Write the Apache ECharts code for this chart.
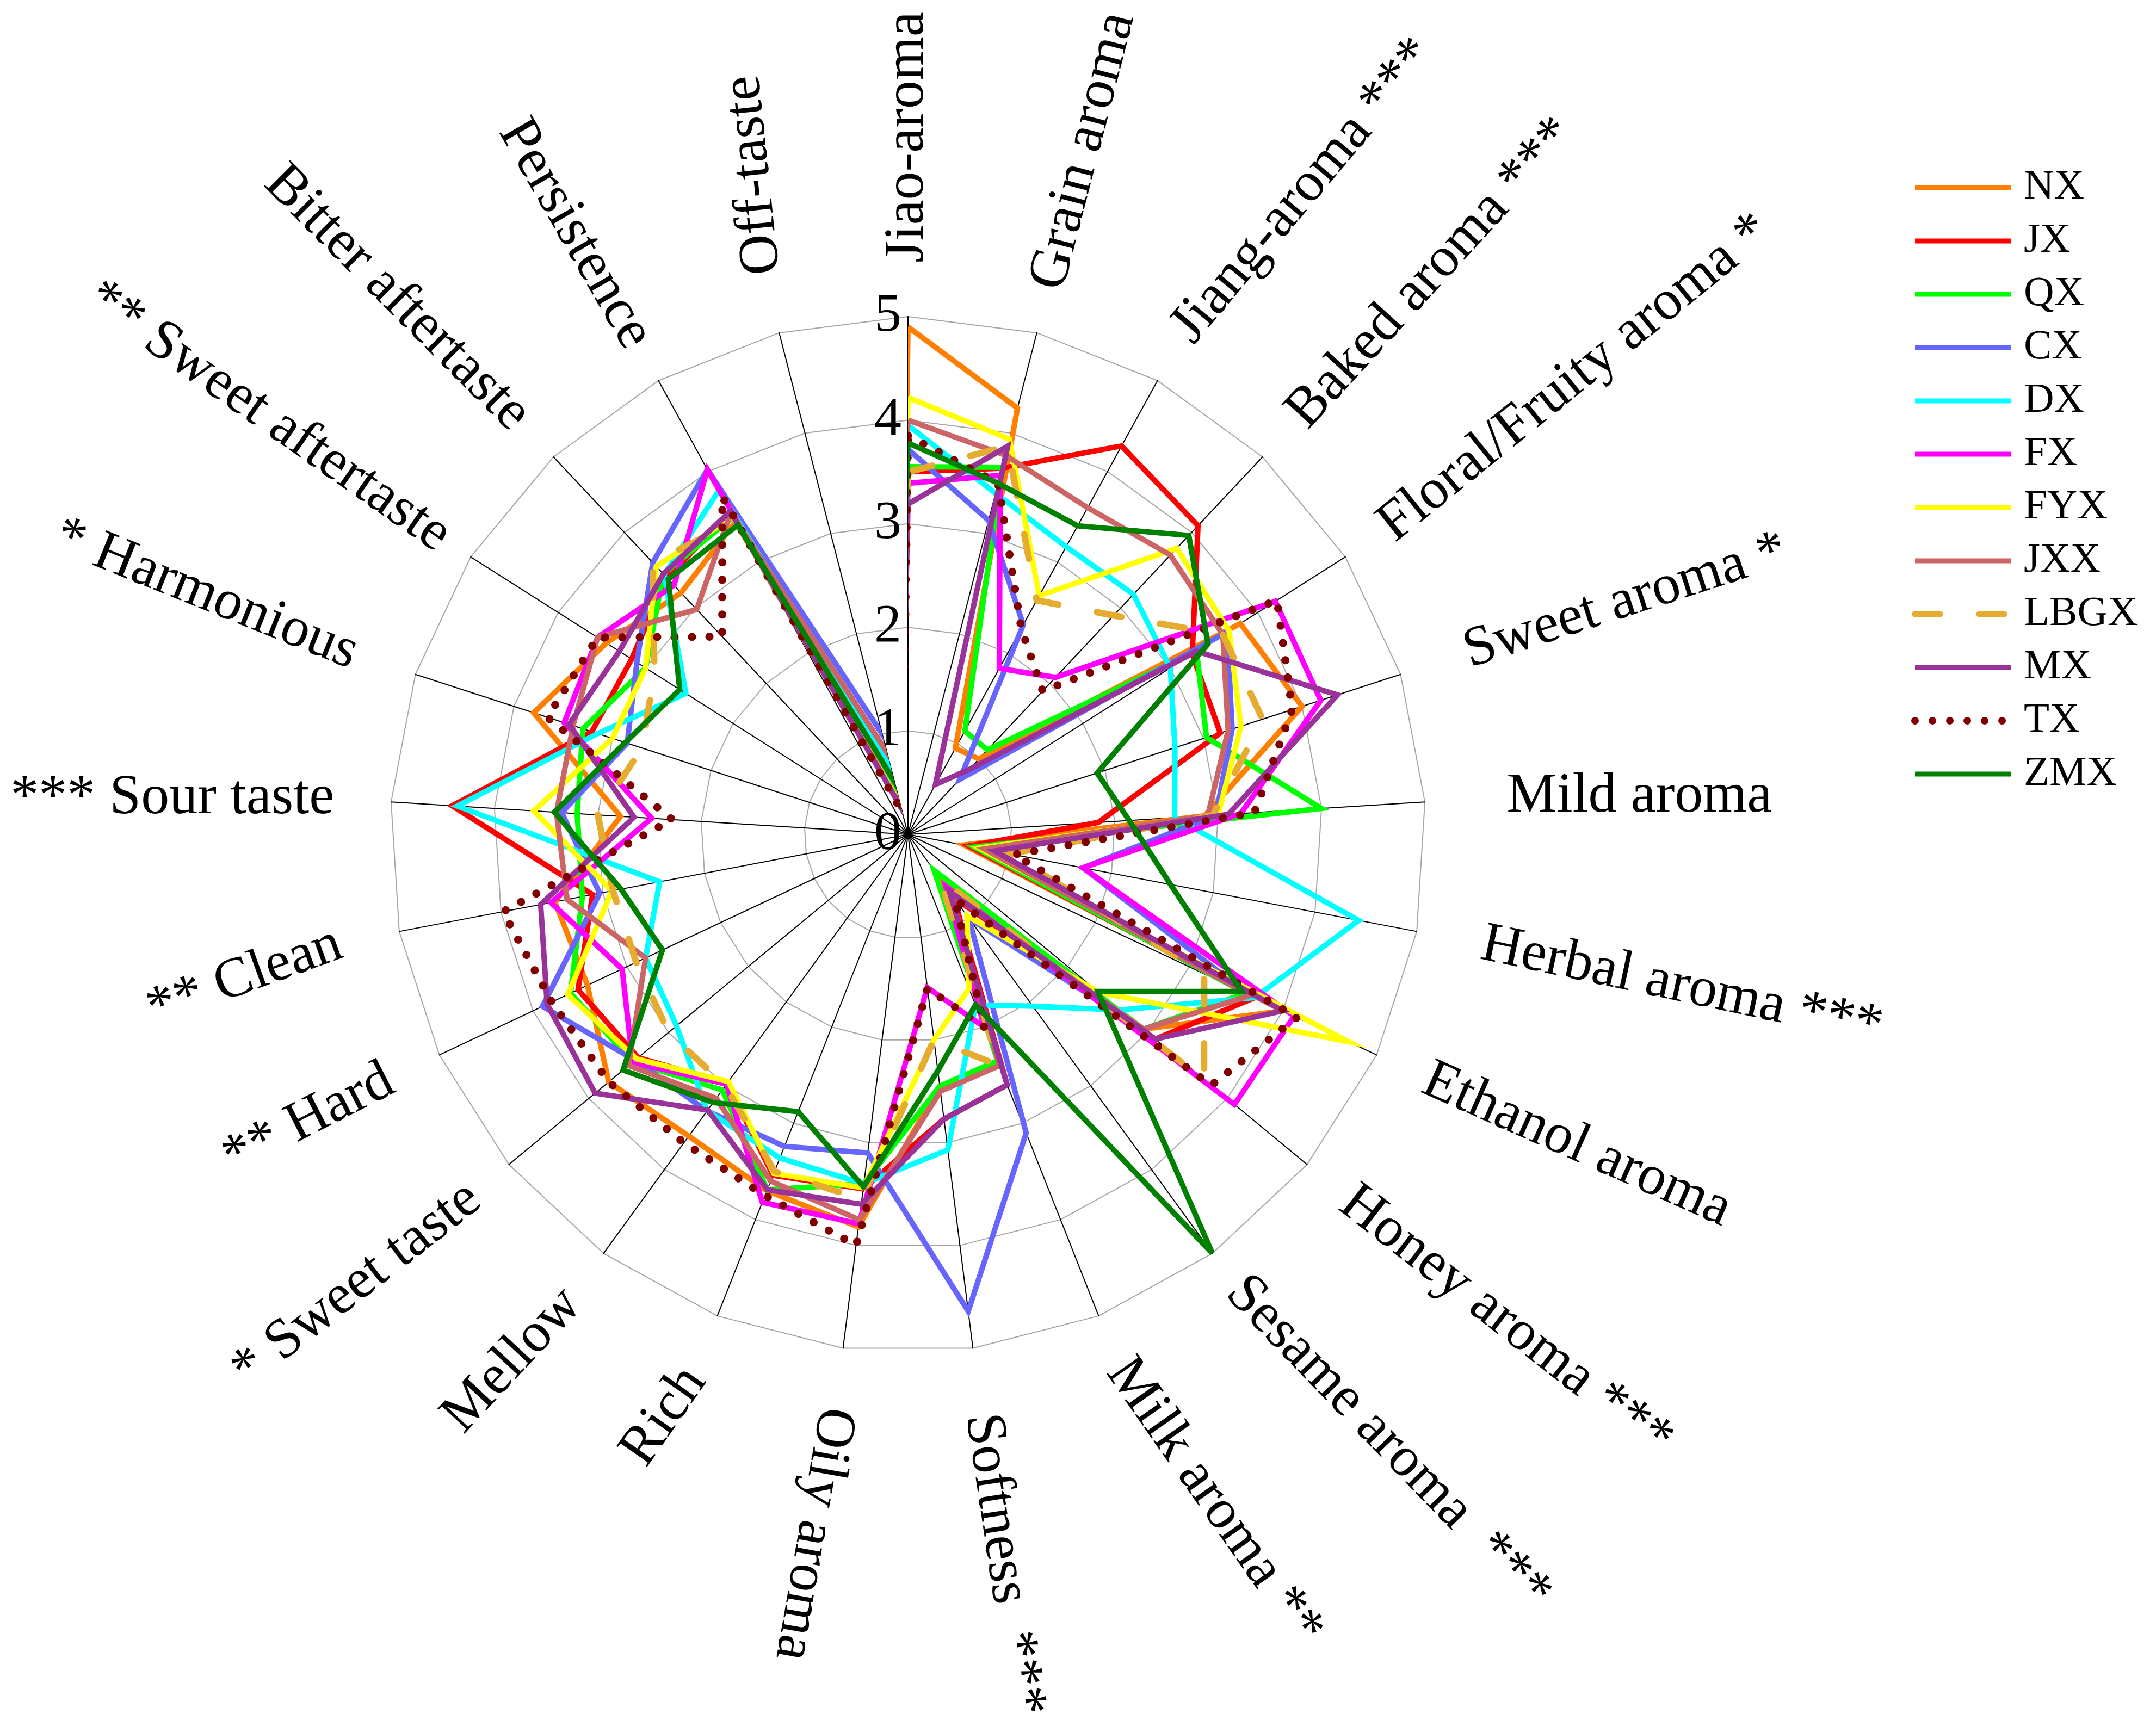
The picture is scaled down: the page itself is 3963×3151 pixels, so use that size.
<!DOCTYPE html>
<html>
<head>
<meta charset="utf-8">
<script src="https://cdn.jsdelivr.net/npm/echarts@6/dist/echarts.min.js"></script>
<style>
html,body{margin:0;padding:0;background:#ffffff;}
#chart{width:3963px;height:3151px;}
</style>
</head>
<body>
<div id="chart"></div>
<script>
// ---------------- data ----------------
const categories = [
  'Jiao-aroma', 'Grain aroma', 'Jiang-aroma ***', 'Baked aroma ***', 'Floral/Fruity aroma *',
  'Sweet aroma *', 'Mild aroma', 'Herbal aroma ***', 'Ethanol aroma', 'Honey aroma ***',
  'Sesame aroma  ***', 'Milk aroma **', 'Softness  ***', 'Oily aroma', 'Rich',
  'Mellow', '* Sweet taste', '** Hard', '** Clean', '*** Sour taste',
  '* Harmonious', '** Sweet aftertaste', 'Bitter aftertaste', 'Persistence', 'Off-taste'
];
const seriesNames = ['NX', 'JX', 'QX', 'CX', 'DX', 'FX', 'FYX', 'JXX', 'LBGX', 'MX', 'TX', 'ZMX'];
const radiusTicks = [0, 1, 2, 3, 4, 5];

const NX   = [4.90, 4.25, 0.95, 1.00, 3.80, 4.00, 2.87, 0.55, 4.00, 2.95, 0.55, 2.40, 2.45, 3.82, 3.70, 3.60, 3.75, 3.42, 3.47, 2.78, 3.80, 3.45, 3.20, 3.45, 0.27];
const JX   = [3.50, 3.65, 4.28, 4.09, 3.25, 3.17, 1.84, 0.60, 3.70, 3.10, 0.75, 2.60, 2.77, 3.45, 3.54, 2.97, 3.38, 3.52, 3.10, 4.41, 3.21, 3.16, 3.40, 3.55, 0.40];
const QX   = [3.55, 3.66, 1.14, 1.12, 3.30, 3.03, 4.00, 0.65, 3.60, 2.95, 0.43, 2.35, 2.45, 3.40, 3.69, 3.05, 3.45, 3.60, 3.20, 3.20, 3.30, 3.00, 3.45, 3.50, 0.35];
const CX   = [3.72, 3.13, 2.31, 0.73, 3.65, 3.29, 2.98, 1.72, 3.65, 2.95, 1.00, 3.10, 4.64, 3.10, 3.24, 3.30, 3.42, 3.90, 3.03, 3.35, 2.85, 3.10, 3.60, 4.02, 1.00];
const DX   = [3.95, 3.40, 3.17, 3.18, 3.00, 2.71, 2.58, 4.43, 3.70, 2.66, 2.05, 1.77, 3.07, 3.40, 3.36, 3.30, 2.90, 2.80, 2.44, 4.36, 3.15, 2.54, 3.44, 3.79, 0.68];
const FX   = [3.39, 3.58, 1.83, 2.08, 4.20, 4.19, 3.22, 1.72, 4.12, 4.09, 0.62, 2.00, 1.49, 3.79, 3.82, 2.98, 3.45, 3.05, 3.51, 2.48, 3.49, 3.55, 3.30, 4.02, 0.30];
const FYX  = [4.22, 3.94, 2.63, 3.79, 3.67, 3.38, 3.00, 0.70, 4.70, 2.39, 0.97, 1.60, 2.00, 3.44, 3.52, 2.95, 3.40, 3.63, 2.91, 3.62, 3.00, 3.00, 3.55, 3.50, 0.30];
const JXX  = [4.00, 3.78, 3.60, 3.70, 3.60, 3.25, 2.90, 0.75, 3.65, 2.95, 0.70, 2.40, 2.50, 3.75, 3.60, 3.15, 3.50, 2.80, 3.35, 3.40, 3.40, 3.55, 2.98, 3.55, 0.82];
const LBGX = [3.50, 3.87, 2.58, 2.90, 3.60, 3.60, 2.95, 1.00, 3.16, 3.71, 0.52, 2.40, 2.00, 3.55, 3.50, 3.00, 3.00, 2.90, 2.90, 3.00, 2.70, 2.90, 3.60, 3.45, 0.30];
const MX   = [3.19, 3.87, 0.55, 0.86, 3.30, 4.36, 3.10, 0.85, 4.00, 3.10, 0.68, 2.60, 2.77, 3.60, 3.69, 3.29, 3.92, 3.85, 3.61, 2.65, 3.44, 3.30, 3.45, 3.56, 0.27];
const TX   = [3.85, 3.50, 2.27, 1.90, 4.22, 3.90, 3.35, 1.04, 4.15, 3.80, 0.77, 2.00, 1.50, 4.00, 3.75, 3.68, 3.75, 3.80, 3.98, 2.28, 3.66, 3.55, 2.62, 3.72, 0.22];
const ZMX  = [3.78, 3.50, 3.40, 3.96, 3.43, 1.92, 2.14, 2.58, 3.56, 2.38, 5.00, 1.77, 2.30, 3.43, 2.88, 3.20, 3.57, 2.62, 2.82, 3.42, 2.87, 2.61, 3.38, 3.41, 0.53];

const seriesValues = [NX, JX, QX, CX, DX, FX, FYX, JXX, LBGX, MX, TX, ZMX];

// ---------------- layout / styles ----------------
const seriesColors = ['#FF8000', '#FF0000', '#00FF00', '#6666FF', '#00FFFF', '#FF00FF',
                      '#FFFF00', '#CC6666', '#E6AC30', '#993399', '#800000', '#008000'];
const FONT = '"Liberation Serif", "Times New Roman", serif';
const CENTER = [1669, 1534];
const RADIUS = 952;
const N = categories.length;
// radial distance (axis units) of the inner end of each category label
const labelRadius = [5.52, 5.44, 5.49, 5.48, 5.46, 5.66, 5.79, 5.64, 5.52, 5.49,
                     5.37, 5.50, 5.64, 5.58, 5.59, 5.51, 5.43, 5.52, 5.58, 5.55,
                     5.61, 5.30, 5.46, 5.40, 5.58];
// direction in which each label is laid out (degrees clockwise from "up")
const labelAngle = [0, 14.5, 40, 42.5, 51, 72, 90, 102, 114, 128,
                    136, 145, 171.5, 190, 215, 223, 232, 243, 250, 270,
                    292, 305, 315, 330, 354];

function lineStyleFor(name, color) {
  if (name === 'TX') return {color: color, width: 15, type: [0.01, 32], cap: 'round', join: 'round'};
  if (name === 'LBGX') return {color: color, width: 12, type: [46, 72], cap: 'round', join: 'miter'};
  return {color: color, width: 10, type: 'solid', join: 'miter'};
}
function legendWidthFor(name) {
  if (name === 'TX') return 14;
  if (name === 'LBGX') return 11;
  return 9;
}

const lineSeries = seriesNames.map(function (name, k) {
  const vals = seriesValues[k];
  const pts = vals.concat([vals[0]]).map(function (v, i) { return [v, i % N]; });
  return {
    name: name,
    type: 'line',
    coordinateSystem: 'polar',
    data: pts,
    symbol: 'none',
    showSymbol: false,
    smooth: false,
    clip: false,
    silent: true,
    z: 3,
    lineStyle: lineStyleFor(name, seriesColors[k]),
    itemStyle: {color: seriesColors[k]}
  };
});

const labelSeries = {
  type: 'custom',
  coordinateSystem: 'polar',
  silent: true,
  z: 5,
  data: categories.map(function (c, i) { return [labelRadius[i], i]; }),
  renderItem: function (params, api) {
    const i = api.value(1);
    const p = api.coord([api.value(0), i]);
    const t = labelAngle[i];
    const outward = (t <= 195 || t >= 345);
    const rot = outward ? (90 - t) : (-90 - t);
    return {
      type: 'text',
      x: p[0], y: p[1],
      rotation: rot * Math.PI / 180,
      style: {
        text: categories[i],
        fill: '#000',
        font: '104px ' + FONT,
        align: outward ? 'left' : 'right',
        verticalAlign: 'middle'
      }
    };
  }
};

const option = {
  backgroundColor: '#ffffff',
  animation: false,
  textStyle: {fontFamily: FONT},
  legend: {
    orient: 'vertical',
    left: 3508,
    top: 300,
    itemWidth: 177,
    itemHeight: 2,
    itemGap: 18,
    data: seriesNames.map(function (n) {
      return {name: n, lineStyle: {width: legendWidthFor(n)}};
    }),
    itemStyle: {opacity: 0},
    textStyle: {fontSize: 77, fontFamily: FONT, color: '#000', lineHeight: 80, padding: [0, 0, 0, 18]}
  },
  radar: {
    center: CENTER,
    radius: RADIUS,
    startAngle: 90,
    splitNumber: 5,
    shape: 'polygon',
    indicator: categories.map(function (c) { return {name: '', min: 0, max: 5}; }),
    axisName: {show: false},
    axisLine: {show: true, lineStyle: {color: '#000', width: 2}},
    splitLine: {show: true, lineStyle: {color: '#a6a6a6', width: 2}},
    splitArea: {show: false},
    axisTick: {show: false},
    axisLabel: {show: false}
  },
  polar: {center: CENTER, radius: RADIUS},
  angleAxis: {
    type: 'category',
    data: categories,
    startAngle: 90,
    clockwise: true,
    boundaryGap: false,
    axisLine: {show: false},
    axisTick: {show: false},
    axisLabel: {show: false},
    splitLine: {show: false}
  },
  radiusAxis: {
    type: 'value',
    min: radiusTicks[0],
    max: radiusTicks[radiusTicks.length - 1],
    interval: 1,
    axisLine: {show: false},
    axisTick: {show: false},
    splitLine: {show: false},
    axisLabel: {show: true, fontSize: 100, fontFamily: FONT, color: '#000', margin: 12}
  },
  series: lineSeries.concat([labelSeries])
};

const chart = echarts.init(document.getElementById('chart'), null, {renderer: 'canvas'});
chart.setOption(option);
</script>
</body>
</html>
